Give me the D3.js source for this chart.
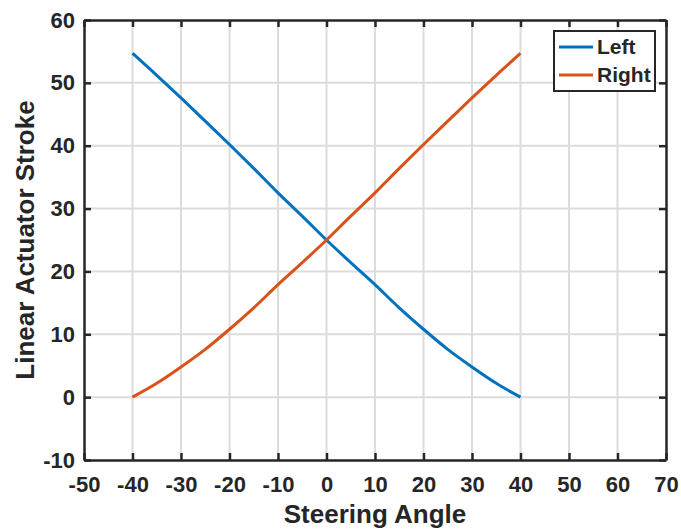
<!DOCTYPE html>
<html>
<head>
<meta charset="utf-8">
<script src="https://cdn.jsdelivr.net/npm/d3@7"></script>
<style>
  body { margin: 0; background: #fff; }
  text { font-family: "Liberation Sans", Arial, sans-serif; font-weight: bold; fill: #262626; }
</style>
</head>
<body>
<div id="chart"></div>
<script>
// data
const angles = [-40, -35, -30, -25, -20, -15, -10, -5, 0, 5, 10, 15, 20, 25, 30, 35, 40];
const leftStroke = [54.7, 51.2, 47.6, 43.9, 40.2, 36.4, 32.5, 28.8, 25.0, 21.4, 17.9, 14.2, 10.8, 7.6, 4.8, 2.2, 0.0];
const rightStroke = [0.0, 2.2, 4.8, 7.6, 10.8, 14.2, 17.9, 21.4, 25.0, 28.8, 32.5, 36.4, 40.2, 43.9, 47.6, 51.2, 54.7];
const seriesNames = ["Left", "Right"];
const seriesColors = ["#0072BD", "#D95319"];
const xTicks = [-50, -40, -30, -20, -10, 0, 10, 20, 30, 40, 50, 60, 70];
const yTicks = [-10, 0, 10, 20, 30, 40, 50, 60];

const W = 681, H = 529;
const margin = {top: 20, right: 15, bottom: 69, left: 84};
const width = W - margin.left - margin.right,
      height = H - margin.top - margin.bottom;

const svg = d3.select("#chart").append("svg")
  .attr("width", W).attr("height", H);
const g = svg.append("g")
  .attr("transform", `translate(${margin.left}, ${margin.top})`);

const x = d3.scaleLinear().domain([-50, 70]).range([0, width]);
const y = d3.scaleLinear().domain([-10, 60]).range([height, 0]);

// grid
g.append("g").selectAll("line").data(xTicks.slice(1, -1)).join("line")
  .attr("x1", d => x(d)).attr("x2", d => x(d))
  .attr("y1", 0).attr("y2", height)
  .attr("stroke", "#dcdcdc").attr("stroke-width", 2);
g.append("g").selectAll("line").data(yTicks.slice(1, -1)).join("line")
  .attr("y1", d => y(d)).attr("y2", d => y(d))
  .attr("x1", 0).attr("x2", width)
  .attr("stroke", "#dcdcdc").attr("stroke-width", 2);

// lines
const series = [leftStroke, rightStroke];
const line = d3.line().x((d, i) => x(angles[i])).y(d => y(d)).curve(d3.curveMonotoneX);
series.forEach((s, k) => {
  g.append("path").datum(s)
    .attr("d", line)
    .attr("fill", "none")
    .attr("stroke", seriesColors[k])
    .attr("stroke-width", 3);
});

// axes (ticks inward, box with ticks on all sides)
const tl = 7;
const fmt = d => String(d); // plain hyphen minus like the original
const axB = g.append("g").attr("transform", `translate(0, ${height})`)
  .call(d3.axisBottom(x).tickValues(xTicks).tickSizeInner(-tl).tickSizeOuter(0).tickPadding(16).tickFormat(fmt));
const axL = g.append("g")
  .call(d3.axisLeft(y).tickValues(yTicks).tickSizeInner(-tl).tickSizeOuter(0).tickPadding(9).tickFormat(fmt));
const axT = g.append("g")
  .call(d3.axisTop(x).tickValues(xTicks).tickSizeInner(-tl).tickSizeOuter(0).tickFormat(""));
const axR = g.append("g").attr("transform", `translate(${width}, 0)`)
  .call(d3.axisRight(y).tickValues(yTicks).tickSizeInner(-tl).tickSizeOuter(0).tickFormat(""));
[axB, axL, axT, axR].forEach(a => {
  a.select(".domain").attr("stroke", "#262626").attr("stroke-width", 2.5);
  a.selectAll(".tick line").attr("stroke", "#262626").attr("stroke-width", 2.5);
  a.selectAll(".tick text").style("font-size", "22px").attr("fill", "#262626");
});

// axis titles
svg.append("text")
  .attr("x", margin.left + x(10)).attr("y", 523)
  .attr("text-anchor", "middle")
  .style("font-size", "26px")
  .text("Steering Angle");
svg.append("text")
  .attr("transform", `translate(34, ${margin.top + y(25)}) rotate(-90)`)
  .attr("text-anchor", "middle")
  .style("font-size", "26px")
  .text("Linear Actuator Stroke");

// legend
const lg = svg.append("g").attr("transform", "translate(554, 31)");
lg.append("rect").attr("width", 101).attr("height", 60)
  .attr("fill", "#fff").attr("stroke", "#262626").attr("stroke-width", 2);
seriesNames.forEach((n, i) => {
  const yy = 16 + i * 28;
  lg.append("line").attr("x1", 5).attr("x2", 39).attr("y1", yy).attr("y2", yy)
    .attr("stroke", seriesColors[i]).attr("stroke-width", 3);
  lg.append("text").attr("x", 43).attr("y", yy + 7)
    .style("font-size", "21px").attr("fill", "#000").text(n);
});
</script>
</body>
</html>
